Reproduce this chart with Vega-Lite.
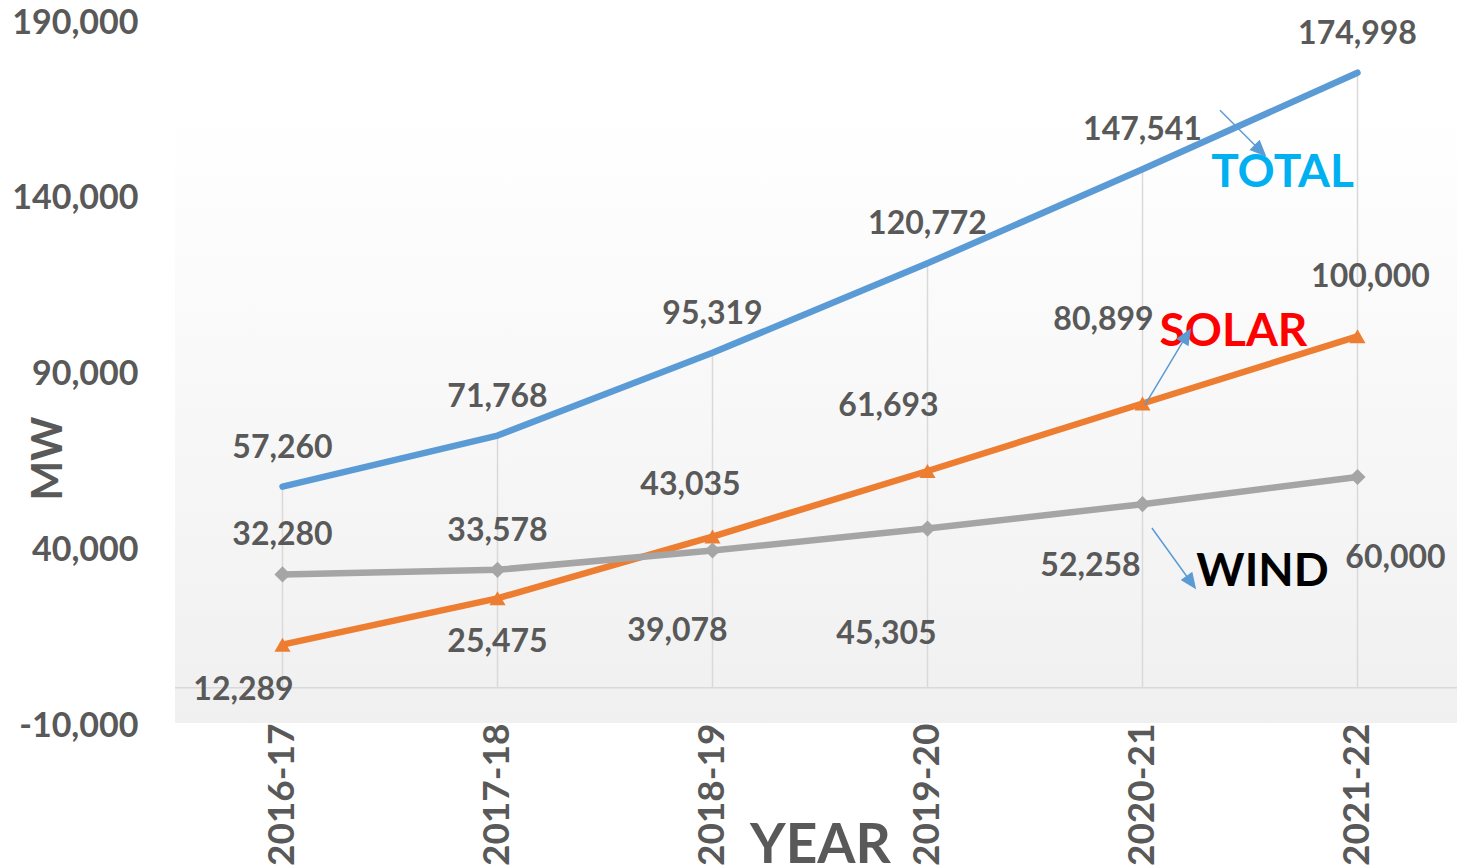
{
  "$schema": "https://vega.github.io/schema/vega-lite/v6.json",
  "width": 1290,
  "height": 703,
  "autosize": {"type": "none"},
  "padding": {"left": 175, "top": 20, "right": 0, "bottom": 143},
  "background": "#ffffff",
  "config": {
    "font": "Lato",
    "view": {
      "stroke": null,
      "fill": {"gradient": "linear", "x1": 0, "y1": 0, "x2": 0, "y2": 1,
        "stops": [{"offset": 0, "color": "#ffffff"}, {"offset": 0.13, "color": "#ffffff"}, {"offset": 1, "color": "#f0f0f0"}]}
    }
  },
  "data": {"values": [
    {"year": "2016-17", "series": "TOTAL", "value": 57260},
    {"year": "2017-18", "series": "TOTAL", "value": 71768},
    {"year": "2018-19", "series": "TOTAL", "value": 95319},
    {"year": "2019-20", "series": "TOTAL", "value": 120772},
    {"year": "2020-21", "series": "TOTAL", "value": 147541},
    {"year": "2021-22", "series": "TOTAL", "value": 174998},
    {"year": "2016-17", "series": "SOLAR", "value": 12289},
    {"year": "2017-18", "series": "SOLAR", "value": 25475},
    {"year": "2018-19", "series": "SOLAR", "value": 43035},
    {"year": "2019-20", "series": "SOLAR", "value": 61693},
    {"year": "2020-21", "series": "SOLAR", "value": 80899},
    {"year": "2021-22", "series": "SOLAR", "value": 100000},
    {"year": "2016-17", "series": "WIND", "value": 32280},
    {"year": "2017-18", "series": "WIND", "value": 33578},
    {"year": "2018-19", "series": "WIND", "value": 39078},
    {"year": "2019-20", "series": "WIND", "value": 45305},
    {"year": "2020-21", "series": "WIND", "value": 52258},
    {"year": "2021-22", "series": "WIND", "value": 60000}
  ]},
  "encoding": {
    "x": {"field": "year", "type": "ordinal", "sort": null,
      "scale": {"type": "point", "padding": 0.5},
      "axis": {"labelAngle": 270, "labelFontSize": 37, "labelFontWeight": "bold", "labelColor": "#595959",
        "domain": false, "ticks": false, "grid": false, "labelPadding": 0,
        "title": "YEAR", "titleFontSize": 55, "titleFontWeight": "bold", "titleColor": "#595959",
        "titleY": 139, "titleBaseline": "alphabetic"}},
    "y": {"field": "value", "type": "quantitative",
      "scale": {"domain": [-10000, 190000], "nice": false, "zero": false},
      "axis": {"values": [-10000, 40000, 90000, 140000, 190000], "format": ",d",
        "labelExpr": "replace(datum.label, '\u2212', '-')",
        "labelFontSize": 34, "labelFontWeight": "bold", "labelColor": "#595959",
        "domain": false, "ticks": false, "grid": false, "labelPadding": 37, "labelOffset": 3,
        "labelFlush": false, "labelOverlap": false,
        "title": "MW", "titleFontSize": 42, "titleFontWeight": "bold", "titleColor": "#595959",
        "titleX": -127, "titleY": 438, "titleAngle": 270, "titleAlign": "center", "titleBaseline": "middle"}}
  },
  "layer": [
    {
      "transform": [{"filter": "datum.series=='TOTAL'"}],
      "mark": {"type": "rule", "color": "#d9d9d9", "strokeWidth": 1.5},
      "encoding": {"y2": {"datum": 0}}
    },
    {
      "transform": [{"filter": "datum.series=='TOTAL' && datum.year=='2016-17'"}],
      "mark": {"type": "rule", "color": "#d9d9d9", "strokeWidth": 1.5},
      "encoding": {"x": {"value": 0}, "x2": {"value": 1290},
        "y": {"datum": 0, "type": "quantitative",
          "scale": {"domain": [-10000, 190000], "nice": false, "zero": false},
          "axis": {"values": [-10000, 40000, 90000, 140000, 190000], "format": ",d",
            "labelExpr": "replace(datum.label, '\u2212', '-')",
            "labelFontSize": 34, "labelFontWeight": "bold", "labelColor": "#595959",
            "domain": false, "ticks": false, "grid": false, "labelPadding": 37, "labelOffset": 3,
            "labelFlush": false, "labelOverlap": false,
            "title": "MW", "titleFontSize": 42, "titleFontWeight": "bold", "titleColor": "#595959",
            "titleX": -127, "titleY": 438, "titleAngle": 270, "titleAlign": "center", "titleBaseline": "middle"}}}
    },
    {
      "mark": {"type": "line", "strokeWidth": 6.5, "strokeCap": "round", "strokeJoin": "round"},
      "encoding": {
        "color": {"field": "series", "type": "nominal",
          "scale": {"domain": ["WIND", "SOLAR", "TOTAL"], "range": ["#A5A5A5", "#ED7D31", "#5B9BD5"]}, "legend": null}
      }
    },
    {
      "transform": [{"filter": "datum.series!='TOTAL'"}],
      "mark": {"type": "point", "filled": true, "opacity": 1, "size": 260},
      "encoding": {
        "shape": {"field": "series", "type": "nominal", "scale": {"domain": ["SOLAR", "WIND"], "range": ["triangle-up", "diamond"]}, "legend": null},
        "color": {"field": "series", "type": "nominal",
          "scale": {"domain": ["WIND", "SOLAR", "TOTAL"], "range": ["#A5A5A5", "#ED7D31", "#5B9BD5"]}, "legend": null}
      }
    },
    {
      "transform": [{"filter": "datum.series=='TOTAL' || (datum.series=='WIND' && (datum.year=='2016-17' || datum.year=='2017-18'))"}],
      "mark": {"type": "text", "fontSize": 32, "fontWeight": "bold", "color": "#595959", "baseline": "middle", "align": "center", "dy": -39},
      "encoding": {"text": {"field": "value", "type": "quantitative", "format": ","}}
    },
    {
      "transform": [{"filter": "datum.series=='SOLAR' && datum.year=='2016-17'"}],
      "mark": {"type": "text", "fontSize": 32, "fontWeight": "bold", "color": "#595959", "baseline": "middle", "align": "center", "dx": -39, "dy": 45},
      "encoding": {"text": {"field": "value", "type": "quantitative", "format": ","}}
    },
    {
      "transform": [{"filter": "datum.series=='SOLAR' && datum.year=='2017-18'"}],
      "mark": {"type": "text", "fontSize": 32, "fontWeight": "bold", "color": "#595959", "baseline": "middle", "align": "center", "dx": 0, "dy": 44},
      "encoding": {"text": {"field": "value", "type": "quantitative", "format": ","}}
    },
    {
      "transform": [{"filter": "datum.series=='SOLAR' && datum.year=='2018-19'"}],
      "mark": {"type": "text", "fontSize": 32, "fontWeight": "bold", "color": "#595959", "baseline": "middle", "align": "center", "dx": -22, "dy": -52},
      "encoding": {"text": {"field": "value", "type": "quantitative", "format": ","}}
    },
    {
      "transform": [{"filter": "datum.series=='SOLAR' && datum.year=='2019-20'"}],
      "mark": {"type": "text", "fontSize": 32, "fontWeight": "bold", "color": "#595959", "baseline": "middle", "align": "center", "dx": -39, "dy": -65},
      "encoding": {"text": {"field": "value", "type": "quantitative", "format": ","}}
    },
    {
      "transform": [{"filter": "datum.series=='SOLAR' && datum.year=='2020-21'"}],
      "mark": {"type": "text", "fontSize": 32, "fontWeight": "bold", "color": "#595959", "baseline": "middle", "align": "center", "dx": -39, "dy": -83},
      "encoding": {"text": {"field": "value", "type": "quantitative", "format": ","}}
    },
    {
      "transform": [{"filter": "datum.series=='SOLAR' && datum.year=='2021-22'"}],
      "mark": {"type": "text", "fontSize": 32, "fontWeight": "bold", "color": "#595959", "baseline": "middle", "align": "center", "dx": 13, "dy": -59},
      "encoding": {"text": {"field": "value", "type": "quantitative", "format": ","}}
    },
    {
      "transform": [{"filter": "datum.series=='WIND' && datum.year=='2018-19'"}],
      "mark": {"type": "text", "fontSize": 32, "fontWeight": "bold", "color": "#595959", "baseline": "middle", "align": "center", "dx": -35, "dy": 81},
      "encoding": {"text": {"field": "value", "type": "quantitative", "format": ","}}
    },
    {
      "transform": [{"filter": "datum.series=='WIND' && datum.year=='2019-20'"}],
      "mark": {"type": "text", "fontSize": 32, "fontWeight": "bold", "color": "#595959", "baseline": "middle", "align": "center", "dx": -41, "dy": 105},
      "encoding": {"text": {"field": "value", "type": "quantitative", "format": ","}}
    },
    {
      "transform": [{"filter": "datum.series=='WIND' && datum.year=='2020-21'"}],
      "mark": {"type": "text", "fontSize": 32, "fontWeight": "bold", "color": "#595959", "baseline": "middle", "align": "center", "dx": -52, "dy": 62},
      "encoding": {"text": {"field": "value", "type": "quantitative", "format": ","}}
    },
    {
      "transform": [{"filter": "datum.series=='WIND' && datum.year=='2021-22'"}],
      "mark": {"type": "text", "fontSize": 32, "fontWeight": "bold", "color": "#595959", "baseline": "middle", "align": "center", "dx": 38, "dy": 81},
      "encoding": {"text": {"field": "value", "type": "quantitative", "format": ","}}
    },
    {
      "transform": [{"filter": "datum.series=='TOTAL' && datum.year=='2021-22'"}],
      "mark": {"type": "text", "fontSize": 46, "fontWeight": "bold", "color": "#00B0F0", "baseline": "middle", "align": "center", "dx": -75, "dy": 100},
      "encoding": {"text": {"field": "series", "type": "nominal"}}
    },
    {
      "transform": [{"filter": "datum.series=='SOLAR' && datum.year=='2021-22'"}],
      "mark": {"type": "text", "fontSize": 46, "fontWeight": "bold", "color": "#FF0000", "baseline": "middle", "align": "center", "dx": -124, "dy": -4},
      "encoding": {"text": {"field": "series", "type": "nominal"}}
    },
    {
      "transform": [{"filter": "datum.series=='WIND' && datum.year=='2021-22'"}],
      "mark": {"type": "text", "fontSize": 46, "fontWeight": "bold", "color": "#000000", "baseline": "middle", "align": "center", "dx": -95, "dy": 95},
      "encoding": {"text": {"field": "series", "type": "nominal"}}
    },
    {
      "transform": [{"filter": "datum.series=='TOTAL' && datum.year=='2021-22'"}],
      "mark": {"type": "point", "shape": "M-1,-1L0.6,0.6M1,1L0.37,0.75L0.75,0.37Z", "size": 2025, "filled": true, "opacity": 1,
        "color": "#5B9BD5", "stroke": "#5B9BD5", "strokeWidth": 1.5, "xOffset": -115, "yOffset": 60}
    },
    {
      "transform": [{"filter": "datum.series=='SOLAR' && datum.year=='2021-22'"}],
      "mark": {"type": "point", "shape": "M-0.6,1L0.43,-0.72M0.6,-1L0.545,-0.598L0.271,-0.762Z", "size": 5625, "filled": true, "opacity": 1,
        "color": "#5B9BD5", "stroke": "#5B9BD5", "strokeWidth": 1.5, "xOffset": -190, "yOffset": 31}
    },
    {
      "transform": [{"filter": "datum.series=='WIND' && datum.year=='2021-22'"}],
      "mark": {"type": "point", "shape": "M-0.72,-1L0.47,0.65M0.72,1L0.285,0.737L0.611,0.503Z", "size": 3600, "filled": true, "opacity": 1,
        "color": "#5B9BD5", "stroke": "#5B9BD5", "strokeWidth": 1.5, "xOffset": -184, "yOffset": 81}
    }
  ]
}
